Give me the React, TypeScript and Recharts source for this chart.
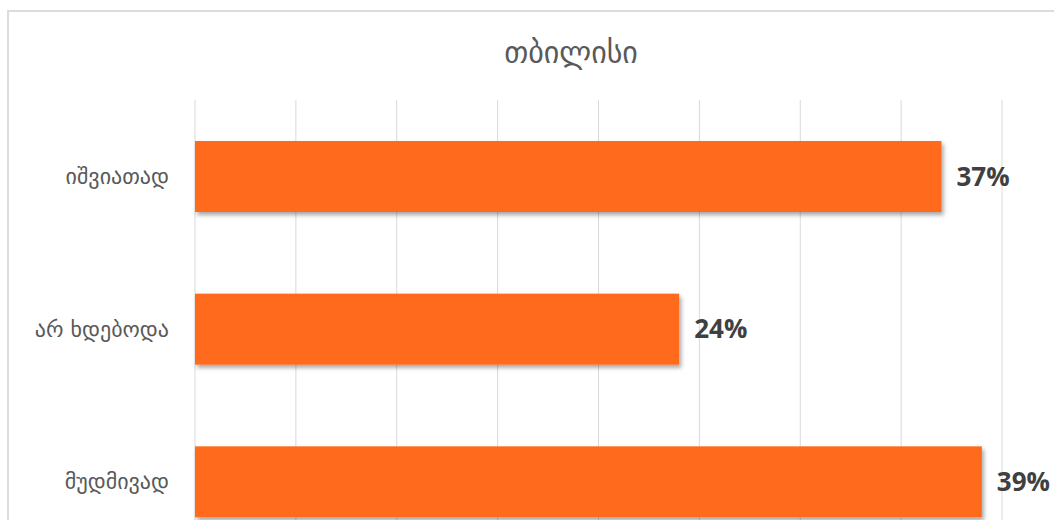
import { BarChart, Bar, XAxis, YAxis, CartesianGrid, LabelList } from "recharts";

const title = "თბილისი";
const categories = ["იშვიათად", "არ ხდებოდა", "მუდმივად"];
const values = [37, 24, 39];
const xTicks = [0, 5, 10, 15, 20, 25, 30, 35, 40];

const data = categories.map((name, i) => ({ name, value: values[i] }));

const ShadowBar = (props: any) => {
  const { x, y, width, height } = props;
  return <rect x={x} y={y} width={width} height={height} fill="#FF6A1C" filter="url(#barShadow)" />;
};

export default function App() {
  return (
    <div style={{ position: "fixed", left: 0, top: 0, width: 1054, height: 520, overflow: "hidden", background: "#fff" }}>
      <svg width="0" height="0" style={{ position: "absolute" }}>
        <defs>
          <filter id="barShadow" x="-5%" y="-20%" width="115%" height="150%">
            <feDropShadow dx="2" dy="3" stdDeviation="2" floodColor="#000" floodOpacity="0.35" />
          </filter>
        </defs>
      </svg>
      <div
        style={{
          position: "absolute",
          left: 7,
          top: 10,
          width: 1128,
          height: 600,
          border: "2px solid #dcdcdc",
          boxSizing: "border-box",
        }}
      />
      <div
        style={{
          position: "absolute",
          left: 7,
          top: 35,
          width: 1128,
          textAlign: "center",
          fontFamily: "DejaVu Sans",
          fontSize: 30,
          lineHeight: "36px",
          color: "#595959",
        }}
      >
        {title}
      </div>
      <div style={{ position: "absolute", left: 0, top: 0 }}>
        <BarChart
          width={1140}
          height={600}
          data={data}
          layout="vertical"
          margin={{ top: 100, right: 138, bottom: 42, left: 0 }}
        >
          <CartesianGrid horizontal={false} stroke="#d9d9d9" syncWithTicks />
          <XAxis
            type="number"
            domain={[0, 40]}
            ticks={xTicks}
            interval={0}
            height={0}
            tick={{ fill: "transparent", fontSize: 1 }}
            axisLine={false}
            tickLine={false}
          />
          <YAxis
            type="category"
            dataKey="name"
            width={195}
            axisLine={false}
            tickLine={false}
            tickSize={0}
            tickMargin={26}
            tick={{ fill: "#595959", fontSize: 22, fontFamily: "DejaVu Sans" }}
          />
          <Bar dataKey="value" barSize={71} shape={ShadowBar} isAnimationActive={false}>
            <LabelList
              dataKey="value"
              position="right"
              offset={15}
              formatter={(v: any) => `${v}%`}
              style={{ fill: "#404040", fontSize: 26, fontWeight: 700, fontFamily: "Open Sans" }}
            />
          </Bar>
        </BarChart>
      </div>
    </div>
  );
}
